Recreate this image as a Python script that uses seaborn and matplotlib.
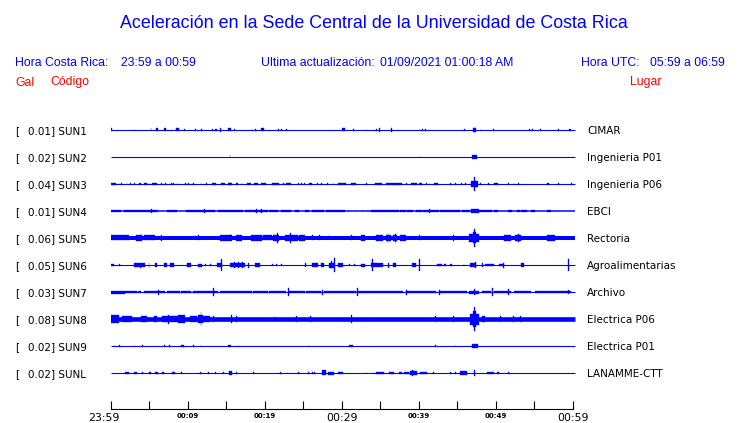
import numpy as np
import pandas as pd
import matplotlib
matplotlib.use("Agg")
import matplotlib.pyplot as plt
import seaborn as sns
from matplotlib.transforms import blended_transform_factory, ScaledTranslation

# ---------------- data ----------------
CODES = ["SUN1", "SUN2", "SUN3", "SUN4", "SUN5", "SUN6", "SUN7", "SUN8", "SUN9", "SUNL"]
PLACES = ["CIMAR", "Ingenieria P01", "Ingenieria P06", "EBCI", "Rectoria",
          "Agroalimentarias", "Archivo", "Electrica P06", "Electrica P01", "LANAMME-CTT"]
PEAKS = [0.01, 0.02, 0.04, 0.01, 0.06, 0.05, 0.03, 0.08, 0.02, 0.02]
# background noise level of each trace (display amplitude units)
BASE_AMP = [0.5, 0.5, 0.5, 0.75, 2.0, 0.5, 0.5, 2.3, 0.5, 0.5]

# bursts per station: (start minute, end minute, display amplitude)
SUN1 = [(0.1, 0.25, 1.5), (3.0, 3.05, 1.0), (5.2, 5.25, 1.5), (5.85, 6.2, 1.5), (7.0, 7.2, 1.5),
        (8.5, 8.9, 1.5), (9.5, 9.55, 1.3), (11.0, 11.05, 1.3), (11.8, 11.85, 1.0), (13.2, 13.25, 1.3),
        (13.6, 13.8, 1.3), (14.2, 14.35, 2.3), (15.2, 15.6, 1.5), (16.0, 16.05, 1.3), (18.3, 18.35, 1.3),
        (18.8, 18.85, 1.0), (19.55, 19.85, 1.5), (21.7, 21.75, 1.0), (22.1, 22.15, 1.0), (22.8, 22.85, 1.0),
        (30.0, 30.4, 1.5), (31.5, 31.55, 1.3), (33.1, 33.15, 1.3), (34.5, 34.55, 1.0), (34.8, 34.85, 2.3),
        (36.4, 36.45, 2.3), (40.1, 40.15, 1.3), (40.4, 40.6, 1.3), (40.8, 40.85, 1.3), (41.4, 41.45, 1.3),
        (45.8, 46.05, 1.3), (47.0, 47.4, 1.7), (47.15, 47.25, 2.3), (48.0, 48.05, 1.0), (49.6, 49.65, 1.3),
        (54.3, 54.35, 1.3), (54.7, 54.75, 1.3), (55.7, 55.75, 1.3), (58.1, 58.15, 1.0), (59.5, 59.7, 1.3)]
SUN2 = [(15.45, 15.55, 1.5), (40.1, 40.15, 0.8), (46.9, 47.55, 2.0)]
SUN3 = [(0.0, 0.65, 1.3), (1.05, 1.1, 1.3), (1.35, 1.4, 1.3), (2.1, 2.2, 1.3), (2.55, 2.6, 1.3),
        (3.1, 3.15, 1.3), (3.65, 4.0, 1.3), (4.4, 4.7, 1.3), (4.95, 5.0, 1.3), (5.4, 6.0, 1.3),
        (6.55, 6.6, 1.3), (7.05, 7.1, 1.0), (7.85, 7.9, 1.3), (8.15, 8.2, 1.0), (8.7, 8.75, 1.3),
        (9.65, 9.7, 1.0), (10.1, 10.15, 1.0), (10.75, 10.8, 1.0), (11.7, 11.75, 1.0), (12.45, 12.5, 1.0),
        (13.2, 13.65, 1.3), (14.35, 14.85, 1.3), (15.25, 15.7, 1.3), (15.45, 15.55, 1.8), (16.25, 16.55, 1.3),
        (17.0, 17.05, 1.0), (17.75, 18.25, 1.3), (18.6, 19.1, 1.3), (19.55, 20.15, 1.3), (20.9, 21.9, 1.3),
        (22.35, 22.4, 1.0), (22.8, 23.4, 1.3), (24.3, 24.35, 1.0), (24.7, 24.75, 1.3), (25.15, 25.2, 1.0),
        (25.8, 26.2, 1.3), (26.8, 26.85, 1.0), (27.3, 27.35, 1.3), (28.15, 28.2, 1.0), (28.8, 28.85, 1.3),
        (29.5, 30.5, 1.3), (31.2, 31.8, 1.3), (33.2, 33.25, 1.0), (34.35, 35.25, 1.3), (35.8, 37.8, 1.3),
        (38.3, 38.35, 1.0), (38.95, 39.75, 1.3), (40.0, 40.4, 1.3), (40.95, 41.0, 1.0), (41.4, 41.45, 1.3),
        (41.95, 42.55, 1.3), (44.1, 44.15, 1.3), (44.7, 44.75, 1.0), (45.5, 45.55, 1.0), (46.0, 46.05, 1.3),
        (46.75, 47.65, 3.3), (47.15, 47.25, 6.7), (47.95, 48.0, 1.3), (49.0, 49.05, 1.0), (49.7, 50.3, 1.3),
        (51.6, 51.65, 1.0), (52.3, 52.35, 1.0), (52.9, 52.95, 1.0), (56.6, 56.65, 1.3), (56.8, 56.85, 1.3),
        (58.1, 58.15, 1.0), (59.8, 59.85, 1.0)]
SUN4 = [(0.0, 1.42, 1.3), (1.72, 6.02, 1.3), (5.3, 5.35, 2.0), (6.1, 6.15, 1.6), (7.31, 8.6, 1.3),
        (9.8, 13.55, 1.3), (12.15, 12.2, 2.0), (13.9, 17.2, 1.3), (17.5, 20.4, 1.3), (18.9, 18.95, 1.8),
        (19.5, 19.55, 2.0), (20.6, 21.7, 1.3), (22.15, 23.4, 1.3), (23.9, 24.5, 1.3), (25.2, 25.7, 1.3),
        (26.2, 27.7, 1.3), (27.96, 30.45, 1.3), (30.75, 30.8, 1.3), (31.8, 31.85, 1.3), (32.7, 32.75, 1.3),
        (33.35, 33.4, 1.0), (33.8, 37.4, 1.3), (37.6, 38.3, 1.3), (38.5, 39.2, 1.3), (39.6, 40.4, 1.3),
        (40.5, 42.6, 1.3), (41.3, 41.35, 2.0), (42.8, 45.4, 1.3), (45.6, 46.7, 1.3), (46.8, 47.75, 1.7),
        (47.75, 49.5, 1.3), (49.7, 50.3, 1.3), (51.6, 52.05, 1.3), (52.7, 53.1, 1.3), (53.3, 54.0, 1.3),
        (54.6, 55.05, 1.3), (56.6, 57.2, 1.3), (57.6, 57.65, 1.3)]
SUN5 = [(0.0, 2.4, 2.5), (3.3, 4.1, 2.6), (4.05, 4.1, 3.5), (4.4, 5.8, 2.5), (6.6, 6.65, 3.3),
        (10.9, 10.95, 2.5), (11.4, 11.45, 2.5), (14.2, 15.7, 2.6), (15.45, 15.5, 3.5), (16.3, 17.0, 2.6),
        (18.2, 19.6, 2.6), (19.8, 20.9, 2.5), (21.1, 21.9, 3.0), (21.6, 21.65, 5.3), (22.6, 24.3, 2.6),
        (23.3, 23.35, 5.0), (24.5, 25.2, 2.6), (26.2, 26.25, 2.5), (27.1, 27.15, 2.5), (28.3, 28.35, 2.5),
        (31.2, 31.25, 2.5), (32.5, 33.0, 2.6), (34.4, 35.3, 2.7), (35.7, 36.4, 3.2), (35.95, 36.0, 4.7),
        (36.6, 37.2, 3.2), (36.9, 36.95, 4.3), (37.6, 38.3, 2.7), (40.0, 40.05, 2.5), (44.45, 44.6, 2.6),
        (46.5, 47.75, 3.6), (47.15, 47.3, 9.0), (47.0, 47.45, 5.5), (51.0, 52.0, 2.6), (52.5, 53.3, 3.0),
        (52.9, 52.95, 4.0), (56.6, 57.6, 2.7), (58.9, 58.95, 2.3)]
SUN6 = [(0.0, 0.43, 1.3), (1.1, 1.15, 1.3), (3.0, 4.5, 1.7), (3.85, 3.9, 2.5), (4.95, 5.0, 2.5),
        (5.8, 6.0, 1.7), (7.0, 7.3, 1.7), (7.7, 8.2, 1.7), (9.9, 10.45, 1.7), (11.4, 11.9, 1.5),
        (12.3, 12.4, 1.3), (12.9, 12.95, 1.3), (13.8, 14.4, 1.7), (14.35, 14.4, 6.0), (15.5, 17.4, 1.7),
        (16.05, 16.1, 3.0), (16.55, 16.6, 3.0), (17.05, 17.1, 3.0), (17.9, 17.95, 2.5), (18.7, 19.35, 1.7),
        (20.9, 21.1, 1.3), (21.5, 21.55, 1.3), (22.1, 22.15, 1.3), (25.2, 25.25, 2.0), (26.2, 26.9, 1.7),
        (27.3, 27.7, 1.7), (28.3, 29.0, 2.5), (28.6, 28.65, 3.5), (29.05, 29.1, 7.0), (29.5, 30.2, 1.7),
        (30.95, 31.0, 1.3), (31.6, 31.65, 1.3), (32.5, 33.0, 1.5), (33.8, 35.3, 1.7), (33.95, 34.0, 6.0),
        (36.05, 36.1, 2.5), (36.6, 37.1, 1.7), (39.1, 39.6, 1.7), (40.0, 40.05, 6.0), (42.4, 43.0, 1.3),
        (43.3, 43.5, 1.3), (44.0, 44.3, 1.3), (45.8, 45.85, 1.0), (46.7, 47.4, 1.7), (47.3, 47.35, 3.0),
        (48.2, 48.25, 2.3), (48.6, 49.7, 1.3), (50.4, 51.0, 1.3), (50.9, 50.95, 2.5), (53.3, 53.7, 2.0),
        (59.4, 59.45, 6.0)]
SUN7 = [(0.0, 1.9, 1.5), (1.9, 3.4, 1.3), (3.6, 4.0, 1.3), (4.3, 7.1, 1.3), (6.2, 6.25, 2.5),
        (7.3, 9.0, 1.3), (9.2, 10.5, 1.3), (10.75, 14.0, 1.3), (13.3, 13.4, 4.0), (14.2, 18.3, 1.3),
        (18.5, 20.4, 1.3), (20.6, 22.8, 1.3), (23.0, 23.05, 4.0), (23.2, 25.2, 1.3), (25.4, 27.3, 1.3),
        (27.5, 27.55, 2.5), (27.7, 31.8, 1.3), (32.0, 32.05, 4.0), (32.0, 37.9, 1.3), (38.3, 38.35, 2.5),
        (38.3, 42.2, 1.3), (42.6, 42.65, 2.5), (42.6, 46.2, 1.3), (46.5, 47.75, 1.5), (47.15, 47.2, 3.0),
        (48.2, 49.3, 1.3), (49.5, 49.55, 4.0), (49.7, 52.0, 1.3), (51.6, 51.65, 3.0), (52.3, 54.5, 1.3),
        (55.1, 59.8, 1.3), (59.4, 59.45, 2.0)]
SUN8 = [(0.0, 1.1, 4.0), (1.5, 2.8, 3.0), (3.9, 4.7, 3.0), (5.6, 6.0, 2.8), (6.7, 8.8, 3.3),
        (7.5, 7.55, 4.5), (8.8, 9.7, 4.0), (10.3, 11.2, 2.8), (11.4, 12.0, 3.6), (11.7, 11.75, 7.0),
        (12.0, 12.9, 2.8), (13.3, 13.35, 2.8), (15.6, 15.65, 4.0), (16.3, 16.35, 2.8), (21.3, 21.35, 2.8),
        (24.1, 24.15, 2.8), (25.9, 25.95, 2.8), (31.2, 31.25, 4.0), (42.15, 42.2, 2.8), (44.45, 44.6, 3.0),
        (46.7, 47.75, 5.5), (47.0, 47.45, 8.0), (47.15, 47.25, 12.0), (48.2, 48.6, 3.0), (50.5, 50.55, 2.8),
        (52.2, 52.25, 2.6), (53.1, 53.15, 2.6)]
SUN9 = [(0.4, 0.45, 1.3), (1.1, 1.15, 1.3), (3.0, 3.05, 1.0), (4.15, 4.2, 1.0), (7.0, 7.05, 1.0),
        (7.6, 7.65, 1.0), (9.15, 9.5, 1.3), (10.75, 10.8, 1.0), (11.7, 11.75, 1.3), (15.3, 15.6, 1.3),
        (16.5, 16.55, 1.3), (25.7, 25.75, 1.0), (31.0, 31.4, 1.3), (42.1, 42.15, 1.3), (44.65, 44.7, 1.3),
        (46.9, 47.7, 2.3)]
SUNL = [(1.9, 2.4, 1.3), (3.0, 3.4, 1.3), (4.15, 4.2, 1.3), (4.95, 5.2, 1.3), (5.8, 6.2, 1.3),
        (6.65, 6.9, 1.3), (8.0, 8.4, 1.3), (9.15, 9.2, 1.3), (11.6, 11.65, 1.3), (12.7, 12.75, 1.3),
        (13.55, 13.6, 1.3), (14.6, 14.65, 1.3), (15.4, 15.8, 2.0), (16.3, 16.35, 1.3), (18.5, 18.55, 1.3),
        (22.05, 22.1, 1.3), (22.85, 22.9, 1.3), (24.3, 24.35, 1.3), (25.6, 25.65, 1.0), (26.2, 26.25, 1.3),
        (26.45, 26.5, 1.3), (27.4, 28.0, 2.5), (28.2, 29.0, 1.5), (29.5, 30.1, 1.3), (33.1, 33.15, 1.3),
        (34.0, 34.05, 1.3), (34.4, 35.5, 1.3), (36.1, 36.8, 1.3), (37.4, 37.8, 1.3), (38.1, 38.7, 1.3),
        (38.9, 39.7, 2.0), (39.1, 39.15, 3.0), (40.2, 41.0, 1.3), (41.9, 41.95, 1.3), (44.1, 44.15, 1.3),
        (44.7, 44.75, 1.3), (45.4, 46.2, 1.7), (47.15, 47.2, 3.0), (48.8, 49.7, 1.3), (50.1, 50.4, 1.3),
        (51.6, 51.65, 1.3)]
BURSTS = [SUN1, SUN2, SUN3, SUN4, SUN5, SUN6, SUN7, SUN8, SUN9, SUNL]

WINDOW_MIN = [0, 60.25]
TICK_MIN = list(range(0, 61, 5))
TICK_LABELS = ["23:59", "", "00:09", "", "00:19", "", "00:29", "", "00:39", "", "00:49", "", "00:59"]
BIG_LABELS = ["23:59", "00:29", "00:59"]

TITLE = "Aceleración en la Sede Central de la Universidad de Costa Rica"
HORA_CR = "23:59 a 00:59"
UPDATE = "01/09/2021 01:00:18 AM"
HORA_UTC = "05:59 a 06:59"

# ---------------- style ----------------
W, H = 740, 423
BLUE = "#0000ff"
RED = "#ff0000"
ROW_PX = 27.0
sns.set_theme(style="white")
plt.rcParams["font.family"] = ["DejaVu Sans"]

fig = plt.figure(figsize=(W / 100, H / 100), dpi=100)
fig.patch.set_facecolor("white")
ax = fig.add_axes([110.5 / W, (H - 409) / H, 462.5 / W, (409 - 115) / H])
ax.patch.set_alpha(0)

# baselines through seaborn
base_df = pd.DataFrame({
    "t": [t for _ in CODES for t in WINDOW_MIN],
    "row": [i for i in range(len(CODES)) for _ in WINDOW_MIN],
    "station": [c for c in CODES for _ in WINDOW_MIN],
})
sizes = {c: max(2 * a * 0.72, 0.8) for c, a in zip(CODES, BASE_AMP)}
sns.lineplot(data=base_df, x="t", y="row", hue="station", size="station",
             sizes=sizes, palette={c: BLUE for c in CODES}, legend=False,
             estimator=None, sort=False, ax=ax)
for ln in ax.get_lines():
    ln.set_solid_capstyle("butt")
    ln.set_clip_on(False)

# bursts
for i, segs in enumerate(BURSTS):
    arr = np.array(segs, dtype=float)
    start, end, amp = arr[:, 0], arr[:, 1], arr[:, 2]
    width = np.maximum(end - start, 0.1)
    h = amp / ROW_PX
    ax.bar(start, 2 * h, width=width, bottom=i - h, align="edge",
           color=BLUE, edgecolor=BLUE, linewidth=0.25, zorder=3)

ax.set_xlim(0, 60)
ax.set_ylim(9 + (409 - 373) / ROW_PX, -15 / ROW_PX)
ax.set_xlabel("")
ax.set_ylabel("")
ax.set_yticks([])
ax.set_xticks(TICK_MIN)
ax.set_xticklabels(TICK_LABELS)
ax.tick_params(axis="x", direction="in", length=5.8, width=0.8, color="black",
               pad=2.6, bottom=True, labelcolor="black")
for s in ["top", "left", "right"]:
    ax.spines[s].set_visible(False)
ax.spines["bottom"].set_color("black")
ax.spines["bottom"].set_linewidth(0.8)
for k, lab in enumerate(ax.get_xticklabels()):
    lab.set_family("DejaVu Sans")
    if lab.get_text() in BIG_LABELS:
        lab.set_fontsize(7.9)
    else:
        lab.set_fontsize(5.0)
        lab.set_fontweight("bold")
    if k == 0:
        lab.set_transform(lab.get_transform() + ScaledTranslation(-7 / 100, 0, fig.dpi_scale_trans))

# station labels
tr = blended_transform_factory(fig.transFigure, ax.transData)
off = 3.7 / ROW_PX
for i, (code, place, pk) in enumerate(zip(CODES, PLACES, PEAKS)):
    ax.text(15 / W, i + off, "[", transform=tr, fontsize=7.5, color="black",
            va="baseline", ha="left", clip_on=False)
    ax.text(28 / W, i + off, f"{pk:.2f}] {code}", transform=tr, fontsize=7.5,
            color="black", va="baseline", ha="left", clip_on=False)
    ax.text(587 / W, i + off, place, transform=tr, fontsize=7.5, color="black",
            va="baseline", ha="left", clip_on=False)

# header texts
LIB = "Liberation Sans"
def ftext(px, py, s, **kw):
    fig.text(px / W, 1 - py / H, s, va="baseline", family=LIB, **kw)

ftext(374, 28, TITLE, ha="center", fontsize=12.9, color=BLUE)
ftext(15, 65.5, "Hora Costa Rica:", ha="left", fontsize=8.8, color=BLUE)
ftext(121, 65.5, HORA_CR, ha="left", fontsize=8.8, color=BLUE)
ftext(261, 65.5, "Ultima actualización:", ha="left", fontsize=8.8, color=BLUE)
ftext(380, 65.5, UPDATE, ha="left", fontsize=8.8, color=BLUE)
ftext(581, 65.5, "Hora UTC:", ha="left", fontsize=8.8, color=BLUE)
ftext(650, 65.5, HORA_UTC, ha="left", fontsize=8.8, color=BLUE)
ftext(15, 85.5, "Gal", ha="left", fontsize=8.8, color=RED)
ftext(50, 85.5, "Código", ha="left", fontsize=8.8, color=RED)
ftext(630, 85.5, "Lugar", ha="left", fontsize=8.8, color=RED)

fig.savefig("out.png", dpi=100, facecolor="white")
